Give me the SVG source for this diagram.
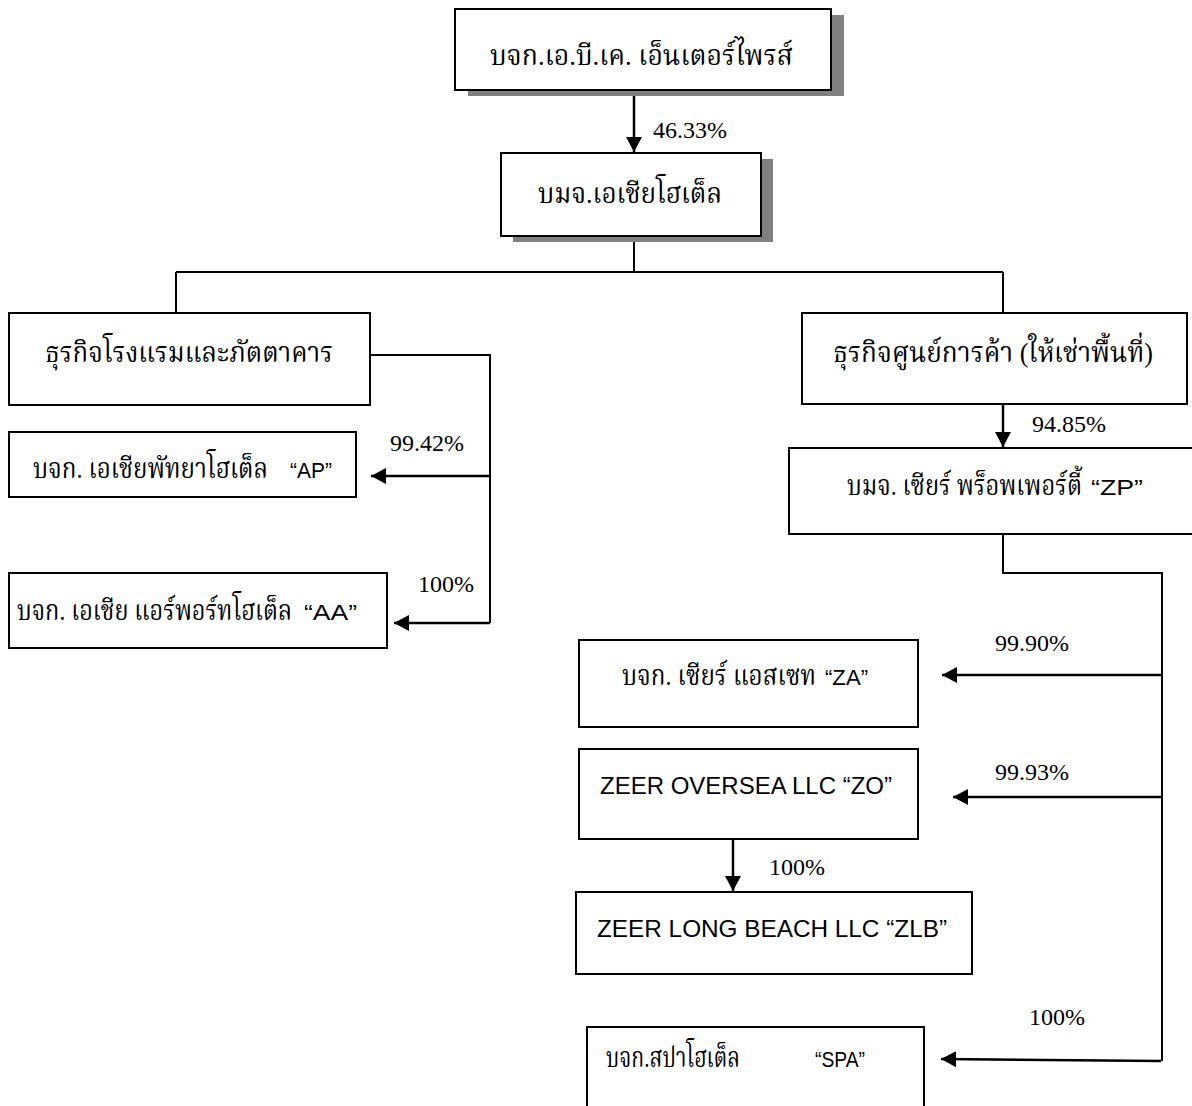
<svg xmlns="http://www.w3.org/2000/svg" width="1192" height="1106" viewBox="0 0 1192 1106">
<style>
.box{fill:#fff;stroke:#000;stroke-width:2}
.shadow{fill:#808080;stroke:none}
.th{font-family:"Liberation Serif","Noto Serif Thai","Noto Sans Thai","DejaVu Sans",serif;font-size:28px;fill:#000}
.en{font-family:"Liberation Sans",Arial,sans-serif;font-size:24px;fill:#000}
.q{font-family:"Liberation Sans",Arial,sans-serif;font-size:22px;fill:#000}
.lbl{font-family:"Liberation Serif","Times New Roman",serif;font-size:24px;fill:#000}
.ln{fill:none;stroke:#000;stroke-width:2}
.ar{fill:none;stroke:#000;stroke-width:2.5;marker-end:url(#ah)}
</style>
<defs>
<marker id="ah" markerUnits="userSpaceOnUse" markerWidth="16" markerHeight="16" refX="15" refY="8" orient="auto">
<path d="M0,0 L15,8 L0,16 z" fill="#000"/>
</marker>
</defs>
<rect width="1192" height="1106" fill="#fff"/>

<g id="connectors">
<path class="ar" d="M634,90 V152"/>
<path class="ln" d="M634,236 V272 M176,272 H1003 M176,272 V313 M1003,272 V313"/>
<path class="ln" d="M370,355 H490 V623"/>
<path class="ar" d="M490,476 H371"/>
<path class="ar" d="M490,623 H394"/>
<path class="ar" d="M1003,404 V447"/>
<path class="ln" d="M1003,534 V573 H1162 V1061"/>
<path class="ar" d="M1162,675 H942"/>
<path class="ar" d="M1162,797 H953"/>
<path class="ar" d="M1161,1061 L941,1059"/>
<path class="ar" d="M733,838 V891"/>
</g>

<g id="labels">
<text class="lbl" x="653" y="138">46.33%</text>
<text class="lbl" x="390" y="451">99.42%</text>
<text class="lbl" x="418" y="592">100%</text>
<text class="lbl" x="1032" y="432">94.85%</text>
<text class="lbl" x="995" y="651">99.90%</text>
<text class="lbl" x="995" y="780">99.93%</text>
<text class="lbl" x="769" y="875">100%</text>
<text class="lbl" x="1029" y="1025">100%</text>
</g>

<g id="n-abk">
<rect class="shadow" x="468" y="15" width="376" height="81"/>
<rect class="box" x="455" y="9" width="376" height="81"/>
<text class="th" x="490" y="65" textLength="303" lengthAdjust="spacingAndGlyphs">บจก.เอ.บี.เค. เอ็นเตอร์ไพรส์</text>
</g>

<g id="n-asiahotel">
<rect class="shadow" x="513" y="159" width="260" height="83"/>
<rect class="box" x="501" y="153" width="260" height="83"/>
<text class="th" x="538" y="203" textLength="184" lengthAdjust="spacingAndGlyphs">บมจ.เอเชียโฮเต็ล</text>
</g>

<g id="n-hotel-biz">
<rect class="box" x="9" y="313" width="361" height="92"/>
<text class="th" x="45" y="362" textLength="288" lengthAdjust="spacingAndGlyphs">ธุรกิจโรงแรมและภัตตาคาร</text>
</g>

<g id="n-ap">
<rect class="box" x="9" y="432" width="347" height="65"/>
<text class="th" y="478"><tspan x="33" textLength="235" lengthAdjust="spacingAndGlyphs">บจก. เอเชียพัทยาโฮเต็ล</tspan><tspan class="q" x="290" textLength="42" lengthAdjust="spacingAndGlyphs">“AP”</tspan></text>
</g>

<g id="n-aa">
<rect class="box" x="9" y="573" width="378" height="75"/>
<text class="th" y="620"><tspan x="17" textLength="275" lengthAdjust="spacingAndGlyphs">บจก. เอเชีย แอร์พอร์ทโฮเต็ล</tspan><tspan class="q" x="304" textLength="53" lengthAdjust="spacingAndGlyphs">“AA”</tspan></text>
</g>

<g id="n-mall-biz">
<rect class="box" x="802" y="313" width="385" height="91"/>
<text class="th" x="833" y="362" textLength="320" lengthAdjust="spacingAndGlyphs">ธุรกิจศูนย์การค้า (ให้เช่าพื้นที่)</text>
</g>

<g id="n-zp">
<rect class="box" x="789" y="448" width="420" height="86"/>
<text class="th" y="495"><tspan x="847" textLength="235" lengthAdjust="spacingAndGlyphs">บมจ. เซียร์ พร็อพเพอร์ตี้</tspan><tspan class="q" x="1091" textLength="52" lengthAdjust="spacingAndGlyphs">“ZP”</tspan></text>
</g>

<g id="n-za">
<rect class="box" x="579" y="640" width="339" height="87"/>
<text class="th" y="685"><tspan x="622" textLength="194" lengthAdjust="spacingAndGlyphs">บจก. เซียร์ แอสเซท</tspan><tspan class="q" x="825" textLength="43" lengthAdjust="spacingAndGlyphs">“ZA”</tspan></text>
</g>

<g id="n-zo">
<rect class="box" x="579" y="749" width="339" height="90"/>
<text class="en" x="600" y="794" textLength="292" lengthAdjust="spacingAndGlyphs">ZEER OVERSEA LLC “ZO”</text>
</g>

<g id="n-zlb">
<rect class="box" x="576" y="892" width="396" height="82"/>
<text class="en" x="597" y="937" textLength="350" lengthAdjust="spacingAndGlyphs">ZEER LONG BEACH LLC “ZLB”</text>
</g>

<g id="n-spa">
<rect class="box" x="587" y="1027" width="337" height="100"/>
<text class="th" y="1067"><tspan x="606" textLength="134" lengthAdjust="spacingAndGlyphs">บจก.สปาโฮเต็ล</tspan><tspan class="q" x="815" textLength="50" lengthAdjust="spacingAndGlyphs">“SPA”</tspan></text>
</g>
</svg>
